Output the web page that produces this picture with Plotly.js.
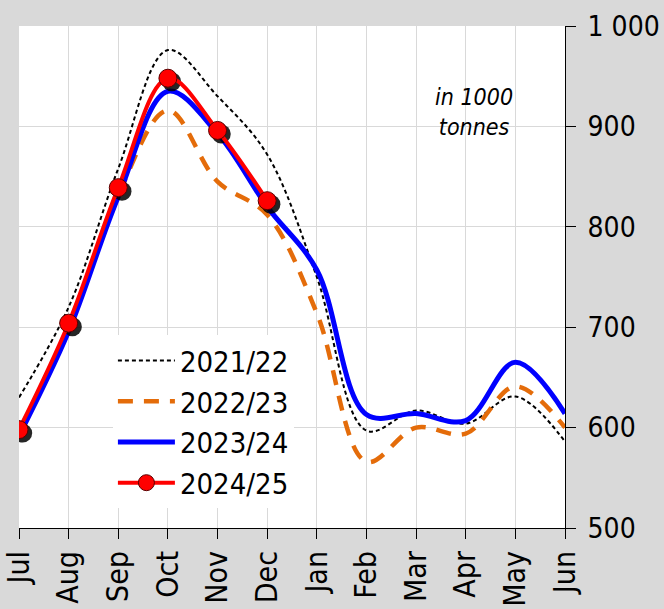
<!DOCTYPE html>
<html><head><meta charset="utf-8">
<script src="https://cdn.plot.ly/plotly-3.0.1.min.js"></script>
<style>html,body{margin:0;padding:0;background:#d9d9d9;}</style>
</head><body><div id="chart" style="width:664px;height:609px;"></div>
<script>
const months = ['Jul','Aug','Sep','Oct','Nov','Dec','Jan','Feb','Mar','Apr','May','Jun'];
const s2021_22 = [630, 720, 858, 976, 930, 872, 750, 597, 617, 604, 631, 586];
const s2022_23 = [596, 700, 832, 916, 845, 812, 714, 566, 600, 594, 641, 600];
const s2023_24 = [592, 696, 830, 935, 893, 820, 757, 613, 614, 607, 665, 614];
const s2024_25 = [598, 704, 839, 948, 896, 826];
const yTicks = [500, 600, 700, 800, 900, 1000];
const yTickText = ['500', '600', '700', '800', '900', '1 000'];

const FONT = '"Liberation Sans Narrow", "DejaVu Sans Condensed", "Liberation Sans", sans-serif';
const xs = months.map((m, i) => i);

const traces = [
  {x: xs, y: s2021_22, name: '2021/22', mode: 'lines', line: {color: '#000000', width: 2, dash: '4px,3px', shape: 'spline'}},
  {x: xs, y: s2022_23, name: '2022/23', mode: 'lines', line: {color: '#e46c0a', width: 4.5, dash: '15px,11px', shape: 'spline'}},
  {x: xs, y: s2023_24, name: '2023/24', mode: 'lines', line: {color: '#0000ff', width: 5, shape: 'spline'}},
  {x: xs.slice(0, s2024_25.length), y: s2024_25, name: 'shadow', showlegend: false, hoverinfo: 'skip',
   mode: 'markers', xaxis: 'x2', yaxis: 'y2',
   marker: {color: 'rgba(0,0,0,0.85)', size: 19, line: {width: 0}}},
  {x: xs.slice(0, s2024_25.length), y: s2024_25, name: '2024/25', mode: 'lines+markers',
   xaxis: 'x3', yaxis: 'y3',
   line: {color: '#ff0000', width: 4, shape: 'spline'},
   marker: {color: '#ff0000', size: 18, line: {color: '#5a0000', width: 1}}}
];

const layout = {
  width: 664, height: 609,
  paper_bgcolor: '#d9d9d9', plot_bgcolor: '#ffffff',
  margin: {l: 19, r: 99, t: 26, b: 81, pad: 0},
  font: {family: FONT, size: 30, color: '#000000'},
  showlegend: true,
  legend: {x: 0.172, y: 0.384, xanchor: 'left', yanchor: 'top', bgcolor: '#ffffff',
    font: {family: FONT, size: 29, color: '#000000'}, itemwidth: 57, tracegroupgap: 0},
  xaxis: {range: [0, 11], tickvals: xs, ticktext: months, tickangle: -90,
    showgrid: true, gridcolor: '#d9d9d9', gridwidth: 1, zeroline: false,
    showline: true, linecolor: '#000000', linewidth: 1,
    ticks: 'outside', ticklen: 10, tickcolor: '#000000', tickwidth: 1,
    tickfont: {family: FONT, size: 30, color: '#000000'}},
  yaxis: {range: [500, 1000], side: 'right', tickvals: yTicks, ticktext: yTickText,
    showgrid: true, gridcolor: '#d9d9d9', gridwidth: 1, zeroline: false,
    showline: true, linecolor: '#000000', linewidth: 1,
    ticks: 'outside', ticklen: 10, tickcolor: '#000000', tickwidth: 1,
    ticklabelstandoff: 6,
    tickfont: {family: FONT, size: 28, color: '#000000'}},
  xaxis2: {range: [-0.075, 10.925], overlaying: 'x', visible: false, showgrid: false, zeroline: false},
  yaxis2: {range: [503.5, 1003.5], overlaying: 'y', visible: false, showgrid: false, zeroline: false},
  xaxis3: {range: [0, 11], overlaying: 'x', visible: false, showgrid: false, zeroline: false},
  yaxis3: {range: [500, 1000], overlaying: 'y', visible: false, showgrid: false, zeroline: false},
  annotations: [{xref: 'paper', yref: 'paper', x: 0.833, y: 0.829, xanchor: 'center', yanchor: 'middle',
    text: '<i>in 1000<br>tonnes</i>', showarrow: false,
    font: {family: FONT, size: 23, color: '#000000'}}]
};

Plotly.newPlot('chart', traces, layout, {displayModeBar: false, staticPlot: true});
</script></body></html>
